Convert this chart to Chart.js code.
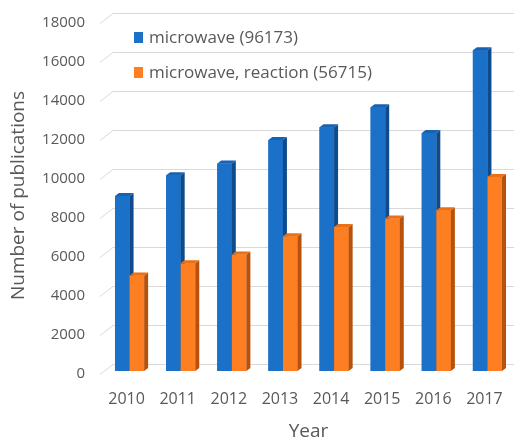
<!DOCTYPE html>
<html>
<head>
<meta charset="utf-8">
<script src="https://cdn.jsdelivr.net/npm/chart.js@4"></script>
<style>
  html, body { margin: 0; padding: 0; background: #fff; }
  #wrap { width: 514px; height: 439px; }
</style>
</head>
<body>
<div id="wrap"><canvas id="pubChart" width="514" height="439"></canvas></div>
<script>
// Data
const years = ['2010', '2011', '2012', '2013', '2014', '2015', '2016', '2017'];
const microwave = [8970, 10040, 10640, 11840, 12500, 13530, 12200, 16453];
const microwaveReaction = [4900, 5520, 5970, 6910, 7390, 7820, 8250, 9955];
const seriesNames = ['microwave (96173)', 'microwave, reaction (56715)'];
const yTicks = [0, 2000, 4000, 6000, 8000, 10000, 12000, 14000, 16000, 18000];

const FONT = "'Open Sans', sans-serif";
const TEXT = '#595959';

// front / side / top colours for the fake 3D columns
const faces = [
    { front: '#1b70c8', side: '#0f4b8a', top: '#1862b2' },
    { front: '#fd7f22', side: '#b6520e', top: '#ea6f15' }
];

// gridlines with the little perspective step on the left
const backWall = {
    id: 'backWall',
    beforeDatasetsDraw(chart) {
        const ctx = chart.ctx;
        const y = chart.scales.y;
        ctx.save();
        ctx.strokeStyle = '#d9d9d9';
        ctx.lineWidth = 1;
        yTicks.forEach(v => {
            const py = Math.round(y.getPixelForValue(v)) + 0.5;
            ctx.beginPath();
            ctx.moveTo(100, py + 3);
            ctx.lineTo(113, py - 7);
            ctx.lineTo(chart.width, py - 7);
            ctx.stroke();
        });
        ctx.restore();
    }
};

// side + top faces drawn over each bar
const columns3d = {
    id: 'columns3d',
    afterDatasetsDraw(chart) {
        const ctx = chart.ctx;
        const d = 4, h = 3;
        const n = chart.data.labels.length;
        ctx.save();
        for (let i = 0; i < n; i++) {
            chart.data.datasets.forEach((ds, k) => {
                const bar = chart.getDatasetMeta(k).data[i];
                const l = bar.x - bar.width / 2;
                const r = bar.x + bar.width / 2;
                const t = bar.y;
                const b = bar.base;
                const c = faces[k];
                ctx.fillStyle = c.front;
                ctx.fillRect(l, t, r - l, b - t);
                ctx.fillStyle = c.side;
                ctx.beginPath();
                ctx.moveTo(r, t);
                ctx.lineTo(r + d, t - h);
                ctx.lineTo(r + d, b - h);
                ctx.lineTo(r, b);
                ctx.closePath();
                ctx.fill();
                ctx.fillStyle = c.top;
                ctx.beginPath();
                ctx.moveTo(l, t);
                ctx.lineTo(l + d, t - h);
                ctx.lineTo(r + d, t - h);
                ctx.lineTo(r, t);
                ctx.closePath();
                ctx.fill();
            });
        }
        ctx.restore();
    }
};

// legend sits inside the plot, top left
const innerLegend = {
    id: 'innerLegend',
    afterDraw(chart) {
        const ctx = chart.ctx;
        ctx.save();
        ctx.font = '17px ' + FONT;
        ctx.textBaseline = 'middle';
        chart.data.datasets.forEach((ds, k) => {
            const cy = 38 + k * 35;
            ctx.fillStyle = faces[k].front;
            ctx.fillRect(134, cy - 6, 9, 11);
            ctx.fillStyle = TEXT;
            ctx.fillText(ds.label, 149, cy);
        });
        ctx.restore();
    }
};

const ctx = document.getElementById('pubChart').getContext('2d');
new Chart(ctx, {
    type: 'bar',
    data: {
        labels: years,
        datasets: [
            { label: seriesNames[0], data: microwave, backgroundColor: faces[0].front },
            { label: seriesNames[1], data: microwaveReaction, backgroundColor: faces[1].front }
        ]
    },
    options: {
        responsive: false,
        animation: false,
        devicePixelRatio: 1,
        datasets: {
            bar: { categoryPercentage: 0.57, barPercentage: 1 }
        },
        layout: { padding: { top: 20, right: 1, left: 0, bottom: 0 } },
        plugins: {
            legend: { display: false },
            tooltip: { enabled: false }
        },
        scales: {
            x: {
                grid: { display: false, drawTicks: true, tickLength: 14 },
                border: { display: false },
                ticks: { color: TEXT, font: { family: FONT, size: 16 }, padding: 5, labelOffset: -3 },
                title: { display: true, text: 'Year', color: TEXT, font: { family: FONT, size: 19, lineHeight: 0.8 }, padding: { top: 0, bottom: 0 } },
                afterFit(scale) { scale.height = 68; }
            },
            y: {
                min: 0,
                max: 18000,
                grid: { display: false, drawTicks: true, tickLength: 16 },
                border: { display: false },
                ticks: {
                    stepSize: 2000,
                    color: TEXT,
                    font: { family: FONT, size: 15 },
                    padding: 3,
                    labelOffset: 3,
                    callback: v => String(v)
                },
                title: { display: true, text: 'Number of publications', color: TEXT, font: { family: FONT, size: 19 }, padding: { top: 7, bottom: 0 } },
                afterFit(scale) { scale.width = 104; }
            }
        }
    },
    plugins: [backWall, columns3d, innerLegend]
});
</script>
</body>
</html>
